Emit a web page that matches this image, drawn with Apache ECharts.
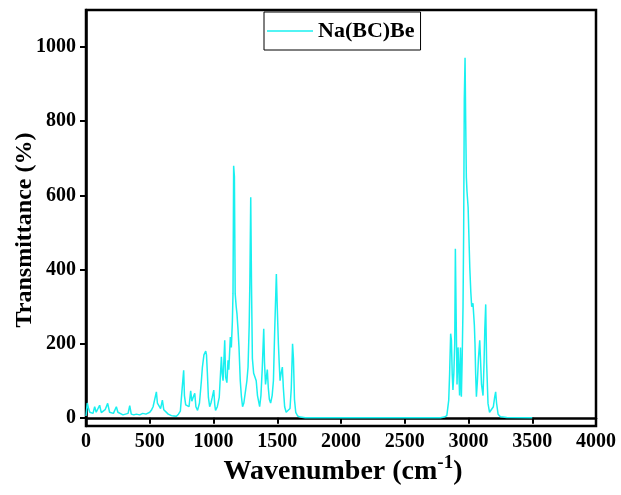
<!DOCTYPE html>
<html>
<head>
<meta charset="utf-8">
<script src="https://cdn.jsdelivr.net/npm/echarts@6/dist/echarts.min.js"></script>
<style>
html,body{margin:0;padding:0;background:#fff;}
#chart{width:621px;height:495px;}
</style>
</head>
<body>
<div id="chart"></div>
<script>
// ---- data ----
const seriesName = 'Na(BC)Be';
const wavenumbers = [
  0,10,20,30,45,55,68,80,95,107,120,135,150,170,185,200,215,238,250,265,290,310,330,343,355,375,395,421,445,470,
  500,515,526,540,552,560,575,585,599,610,625,645,670,690,709,725,740,752,766,772,782,795,808,821,830,840,853,862,875,890,
  905,913,925,939,945,952,960,970,980,990,1002,1010,1016,1030,1045,1062,1068,1075,1088,1095,1105,1114,1120,1132,1140,1148,1153,1158,1164,1170,
  1178,1184,1192,1200,1210,1219,1228,1238,1250,1262,1271,1280,1285,1292,1298,1305,1315,1325,1335,1345,1362,1372,1382,1394,1400,1408,1415,1422,1430,1438,
  1448,1460,1470,1480,1493,1500,1509,1515,1522,1530,1540,1548,1558,1570,1585,1600,1610,1620,1627,1635,1645,1660,1680,1720,2000,2500,2780,2810,2830,2845,
  2852,2860,2866,2872,2878,2885,2892,2897,2904,2910,2918,2924,2930,2937,2944,2950,2957,2962,2967,2973,2978,2983,2988,2997,3004,3010,3018,3025,3035,3046,
  3051,3056,3062,3070,3078,3088,3095,3102,3114,3122,3128,3135,3142,3153,3165,3180,3195,3205,3213,3220,3232,3250,3300,3500
];
const transmittance = [
  5,40,25,15,20,12,30,15,18,34,14,12,22,39,15,20,12,30,15,12,8,10,12,33,10,8,10,8,12,10,
  15,22,30,25,70,40,35,25,48,22,18,10,6,5,4,10,18,70,128,60,35,40,30,73,45,55,66,30,20,40,
  100,137,170,180,170,120,55,30,40,55,75,35,20,30,55,165,120,100,209,110,95,155,130,218,190,260,335,680,650,335,
  300,281,240,190,100,57,30,40,70,100,137,250,362,595,360,160,120,110,100,60,30,60,130,240,150,90,110,130,80,50,
  40,60,100,236,388,300,200,150,100,120,137,80,30,15,12,25,80,200,160,50,15,5,2,0,0,0,0,2,6,48,
  120,227,210,120,75,120,200,456,250,90,190,130,60,190,57,150,299,500,860,971,800,650,612,568,480,406,340,300,309,250,
  200,120,57,100,160,209,150,90,60,150,240,306,150,39,15,12,30,55,70,40,10,3,1,0
];
const xTicks = ['0','500','1000','1500','2000','2500','3000','3500','4000'];
const yTicks = [0,200,400,600,800,1000];
const xTitle = 'Wavenumber (cm';
const xTitleSup = '-1';
const yTitle = 'Transmittance (%)';

const points = wavenumbers.map((w,i)=>[w, transmittance[i]]);

const chart = echarts.init(document.getElementById('chart'), null, {renderer:'canvas'});
const FONT = '"Liberation Serif", "Times New Roman", serif';
chart.setOption({
  animation:false,
  backgroundColor:'#fff',
  grid:{left:86,right:25,top:10,bottom:69,show:true,borderColor:'#000',borderWidth:2.5,backgroundColor:'transparent'},
  legend:{
    data:[{name:seriesName,icon:'rect'}],
    left:264, top:12,
    itemWidth:46, itemHeight:1.5, itemGap:6,
    padding:[8,6,8,3],
    borderColor:'#000', borderWidth:1,
    textStyle:{fontFamily:FONT,fontWeight:'bold',fontSize:22,color:'#000'}
  },
  xAxis:{
    type:'value', min:0, max:4000, interval:500,
    axisLine:{show:true,lineStyle:{color:'#000',width:2.5}},
    axisTick:{show:true,inside:false,length:6,lineStyle:{color:'#000',width:2}},
    axisLabel:{margin:6,color:'#000',fontFamily:FONT,fontWeight:'bold',fontSize:20,
      formatter:(v)=>{const i=Math.round(v/500);return xTicks[i]!==undefined?xTicks[i]:'';}},
    splitLine:{show:false}
  },
  yAxis:{
    type:'value', min:-22, max:1100,
    axisLine:{show:true,onZero:false,lineStyle:{color:'#000',width:2.5}},
    axisTick:{show:true,inside:false,length:6,lineStyle:{color:'#000',width:2},customValues:yTicks},
    axisLabel:{margin:10,color:'#000',fontFamily:FONT,fontWeight:'bold',fontSize:20,customValues:yTicks,
      formatter:(v)=>String(v)},
    splitLine:{show:false}
  },
  graphic:[
    {type:'text',x:343,y:470,
      style:{text:'{a|'+xTitle+'}{s|'+xTitleSup+'}{a|)}',align:'center',verticalAlign:'middle',
        rich:{a:{fontFamily:FONT,fontWeight:'bold',fontSize:28,color:'#000',lineHeight:32,verticalAlign:'bottom'},
              s:{fontFamily:FONT,fontWeight:'bold',fontSize:19,color:'#000',lineHeight:32,verticalAlign:'top',padding:[0,0,8,0]}}}},
    {type:'text',rotation:Math.PI/2,x:25,y:230,
      style:{text:yTitle,fontFamily:FONT,fontWeight:'bold',fontSize:24,fill:'#000',align:'center',verticalAlign:'middle'}}
  ],
  series:[{
    name:seriesName, type:'line', data:points, showSymbol:false, symbol:'none',
    lineStyle:{color:'#19F0F0',width:1.5}, itemStyle:{color:'#19F0F0'}
  }]
});
</script>
</body>
</html>
